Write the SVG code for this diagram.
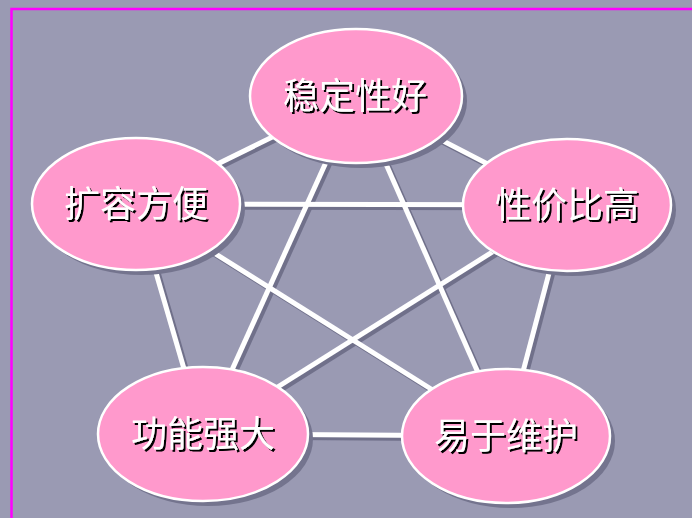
<svg xmlns="http://www.w3.org/2000/svg" width="692" height="518" viewBox="0 0 692 518">
<defs>
<filter id="ts" x="-10%" y="-20%" width="130%" height="150%">
<feDropShadow dx="2" dy="2" stdDeviation="0" flood-color="#000000" flood-opacity="1"/>
</filter>
</defs>
<style>
.ln{stroke:#ffffff;stroke-width:5;fill:none}
.lns{stroke:#70708a;stroke-width:5;fill:none}
.el{fill:#ff99cc;stroke:#ffffff;stroke-width:2.5}
.els{fill:#74748e}
.tx{font-family:"Noto Sans CJK SC","Liberation Sans",sans-serif;font-size:36px;fill:#ffffff;text-anchor:middle;filter:url(#ts)}
</style>
<rect x="0" y="0" width="692" height="518" fill="#9a9ab3"/>
<path d="M11.5 518 V9 H692" stroke="#ff00ff" stroke-width="2.5" fill="none"/>
<g id="connectors">
<g transform="translate(3,3)">
<line class="lns" x1="136" y1="204" x2="356" y2="96"/>
<line class="lns" x1="356" y1="96" x2="567" y2="205"/>
<line class="lns" x1="136" y1="204" x2="567" y2="205"/>
<line class="lns" x1="136" y1="204" x2="203" y2="434"/>
<line class="lns" x1="136" y1="204" x2="506" y2="436"/>
<line class="lns" x1="356" y1="96" x2="203" y2="434"/>
<line class="lns" x1="356" y1="96" x2="506" y2="436"/>
<line class="lns" x1="567" y1="205" x2="203" y2="434"/>
<line class="lns" x1="567" y1="205" x2="506" y2="436"/>
<line class="lns" x1="203" y1="434" x2="506" y2="436"/>
</g>
<line class="ln" x1="136" y1="204" x2="356" y2="96"/>
<line class="ln" x1="356" y1="96" x2="567" y2="205"/>
<line class="ln" x1="136" y1="204" x2="567" y2="205"/>
<line class="ln" x1="136" y1="204" x2="203" y2="434"/>
<line class="ln" x1="136" y1="204" x2="506" y2="436"/>
<line class="ln" x1="356" y1="96" x2="203" y2="434"/>
<line class="ln" x1="356" y1="96" x2="506" y2="436"/>
<line class="ln" x1="567" y1="205" x2="203" y2="434"/>
<line class="ln" x1="567" y1="205" x2="506" y2="436"/>
<line class="ln" x1="203" y1="434" x2="506" y2="436"/>
</g>
<g id="n1">
<ellipse class="els" cx="361" cy="101" rx="106" ry="67"/>
<ellipse class="el" cx="356" cy="96" rx="106" ry="67"/>
<text class="tx" x="355" y="109">稳定性好</text>
</g>
<g id="n2">
<ellipse class="els" cx="141" cy="209" rx="104" ry="66"/>
<ellipse class="el" cx="136" cy="204" rx="104" ry="66"/>
<text class="tx" x="136" y="217">扩容方便</text>
</g>
<g id="n3">
<ellipse class="els" cx="572" cy="210" rx="104" ry="66"/>
<ellipse class="el" cx="567" cy="205" rx="104" ry="66"/>
<text class="tx" x="567" y="218">性价比高</text>
</g>
<g id="n4">
<ellipse class="els" cx="208" cy="439" rx="105" ry="67"/>
<ellipse class="el" cx="203" cy="434" rx="105" ry="67"/>
<text class="tx" x="203" y="447">功能强大</text>
</g>
<g id="n5">
<ellipse class="els" cx="511" cy="441" rx="104" ry="67"/>
<ellipse class="el" cx="506" cy="436" rx="104" ry="67"/>
<text class="tx" x="506" y="449">易于维护</text>
</g>
</svg>
